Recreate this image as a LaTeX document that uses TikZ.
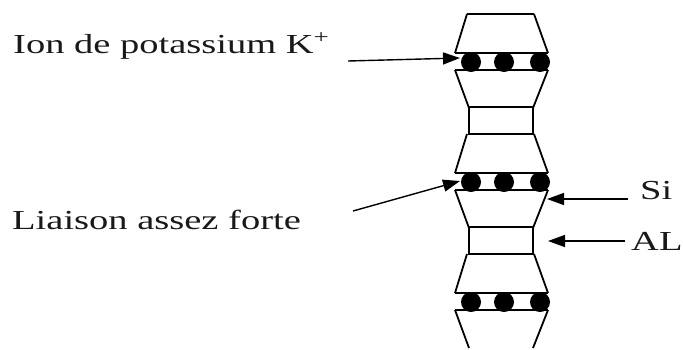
\documentclass[tikz,border=0pt]{standalone}
\usepackage{fontspec}
\setmainfont{Liberation Serif}[FakeStretch=1.4]
\usetikzlibrary{arrows.meta}

\begin{document}
\begin{tikzpicture}[x=1pt,y=-1pt,
  wall/.style={line width=1.8pt},
  ion/.style={fill=black},
  label/.style={anchor=base west,inner sep=0pt,font=\fontsize{27.5}{30}\selectfont,text=black!90},
  pointer/.style={line width=1.4pt,-{Triangle[length=17pt,width=12pt]}}
]
\useasboundingbox (0,0) rectangle (683,349);

% top cap of the column
\draw[wall] (467,14) -- (534,14);
\foreach \o in {0,120,240} {
  % upper tapered block
  \draw[wall] (467,14+\o) -- (455,53+\o) (534,14+\o) -- (548,53+\o);
  % potassium layer
  \draw[wall] (455,53+\o) -- (548,53+\o) (455,70+\o) -- (548,70+\o);
  \foreach \x in {471,504,540}
    \fill[ion] (\x,62+\o) circle (10pt);
  % lower tapered block
  \draw[wall] (455,70+\o) -- (469,108+\o) (548,70+\o) -- (533,108+\o);
}
% AL blocks
\foreach \o in {0,120}
  \draw[wall] (469,107+\o) rectangle (533,134+\o);

\node[label] (ion) at (13,53) {Ion de potassium K\textsuperscript{+}};
\node[label] (bond) at (12,229) {Liaison assez forte};
\node[label] (si) at (640,199) {Si};
\node[label] (al) at (631,250) {AL};

\coordinate (ionTail) at (348,61);
\coordinate (ionTip) at (460,58);
\coordinate (bondTail) at (353,211);
\coordinate (bondTip) at (460,181);
\coordinate (siTail) at (628,199);
\coordinate (siTip) at (547,199);
\coordinate (alTail) at (625,241);
\coordinate (alTip) at (548,241);

\draw[pointer] (ionTail) -- (ionTip);
\draw[pointer] (bondTail) -- (bondTip);
\draw[pointer] (siTail) -- (siTip);
\draw[pointer] (alTail) -- (alTip);
\end{tikzpicture}
\end{document}
